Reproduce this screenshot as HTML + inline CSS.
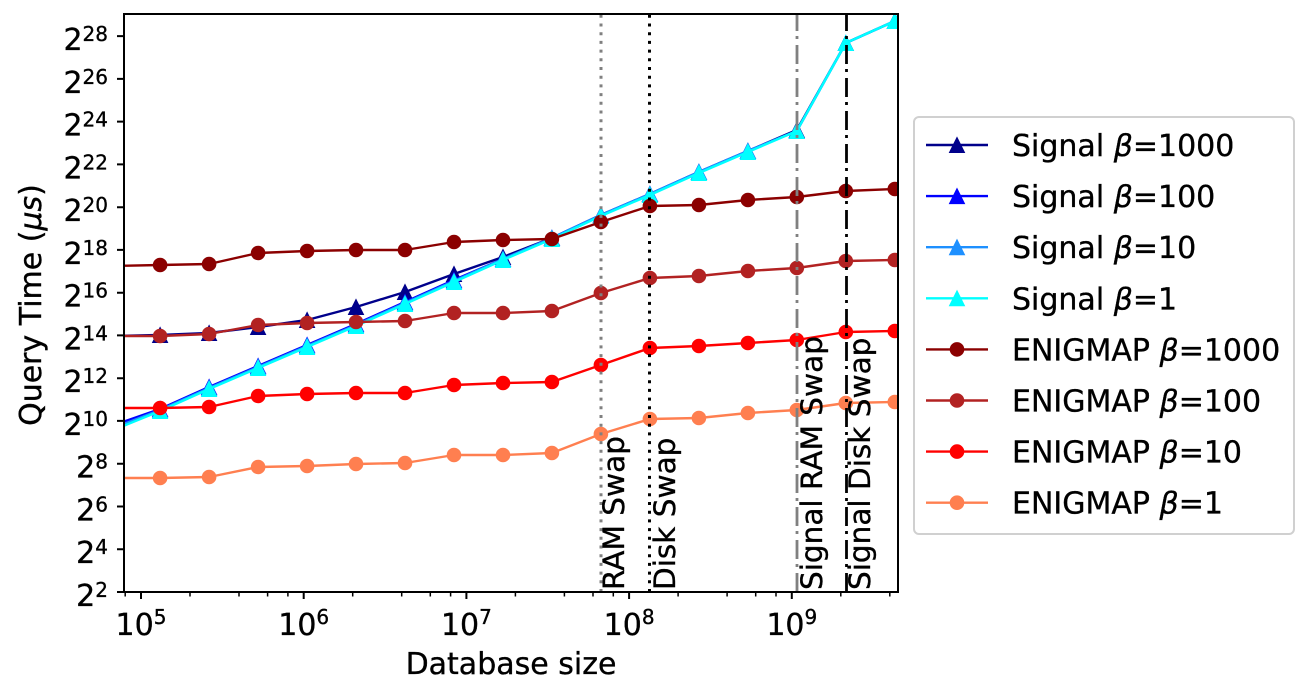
<!DOCTYPE html>
<html>
<head>
<meta charset="utf-8">
<style>
html,body{margin:0;padding:0;background:#fff;}
svg{display:block;}
text{font-family:"DejaVu Sans","Liberation Sans",sans-serif;fill:#000;stroke:#000;stroke-width:0.35px;}
</style>
</head>
<body>
<svg width="1310" height="695" viewBox="0 0 1310 695" xmlns="http://www.w3.org/2000/svg">
<defs>
  <clipPath id="ax"><rect x="124" y="14" width="774" height="578"/></clipPath>
  <marker id="t1" markerWidth="20" markerHeight="20" refX="10" refY="10" markerUnits="userSpaceOnUse" orient="0"><path d="M10,2.5 L2.5,17.5 L17.5,17.5 Z" fill="#00008B" stroke="#00008B" stroke-width="1"/></marker>
  <marker id="t2" markerWidth="20" markerHeight="20" refX="10" refY="10" markerUnits="userSpaceOnUse" orient="0"><path d="M10,2.5 L2.5,17.5 L17.5,17.5 Z" fill="#0000FF" stroke="#0000FF" stroke-width="1"/></marker>
  <marker id="t3" markerWidth="20" markerHeight="20" refX="10" refY="10" markerUnits="userSpaceOnUse" orient="0"><path d="M10,2.5 L2.5,17.5 L17.5,17.5 Z" fill="#1E90FF" stroke="#1E90FF" stroke-width="1"/></marker>
  <marker id="t4" markerWidth="20" markerHeight="20" refX="10" refY="10" markerUnits="userSpaceOnUse" orient="0"><path d="M10,2.5 L2.5,17.5 L17.5,17.5 Z" fill="#00FFFF" stroke="#00FFFF" stroke-width="1"/></marker>
  <marker id="c1" markerWidth="20" markerHeight="20" refX="10" refY="10" markerUnits="userSpaceOnUse" orient="0"><circle cx="10" cy="10" r="6.8" fill="#8B0000" stroke="#8B0000" stroke-width="1"/></marker>
  <marker id="c2" markerWidth="20" markerHeight="20" refX="10" refY="10" markerUnits="userSpaceOnUse" orient="0"><circle cx="10" cy="10" r="6.8" fill="#B22222" stroke="#B22222" stroke-width="1"/></marker>
  <marker id="c3" markerWidth="20" markerHeight="20" refX="10" refY="10" markerUnits="userSpaceOnUse" orient="0"><circle cx="10" cy="10" r="6.8" fill="#FF0000" stroke="#FF0000" stroke-width="1"/></marker>
  <marker id="c4" markerWidth="20" markerHeight="20" refX="10" refY="10" markerUnits="userSpaceOnUse" orient="0"><circle cx="10" cy="10" r="6.8" fill="#FF7F50" stroke="#FF7F50" stroke-width="1"/></marker>
</defs>

<g clip-path="url(#ax)" fill="none" stroke-width="2.4" stroke-linejoin="round">
  <polyline stroke="#00008B" marker-start="url(#t1)" marker-mid="url(#t1)" marker-end="url(#t1)"
    points="111.1,336 160.1,335 209.1,333 258.1,327 307.1,320 356.0,307 405.0,292 454.0,274 503.0,257 551.9,238 600.9,215 649.9,194 698.9,172 747.9,151 796.8,130 845.8,43 894.8,21"/>
  <polyline stroke="#0000FF" marker-start="url(#t2)" marker-mid="url(#t2)" marker-end="url(#t2)"
    points="111.1,426 160.1,409 209.1,387 258.1,366 307.1,345 356.0,324 405.0,302 454.0,280 503.0,259 551.9,238 600.9,215 649.9,194 698.9,172 747.9,151 796.8,131 845.8,43 894.8,21"/>
  <polyline stroke="#1E90FF" marker-start="url(#t3)" marker-mid="url(#t3)" marker-end="url(#t3)"
    points="111.1,429 160.1,410 209.1,388 258.1,367 307.1,346 356.0,325 405.0,303 454.0,281 503.0,259 551.9,238 600.9,215 649.9,194 698.9,172 747.9,151 796.8,131 845.8,43 894.8,21"/>
  <polyline stroke="#00FFFF" marker-start="url(#t4)" marker-mid="url(#t4)" marker-end="url(#t4)"
    points="111.1,431 160.1,411 209.1,389 258.1,368 307.1,347 356.0,326 405.0,304 454.0,282 503.0,260 551.9,239 600.9,216 649.9,195 698.9,173 747.9,152 796.8,131 845.8,43 894.8,21"/>

  <polyline stroke="#8B0000" marker-start="url(#c1)" marker-mid="url(#c1)" marker-end="url(#c1)"
    points="111.1,266 160.1,265 209.1,264 258.1,253 307.1,251 356.0,250 405.0,250 454.0,242 503.0,240 551.9,239 600.9,222 649.9,206 698.9,205 747.9,200 796.8,197 845.8,191 894.8,189"/>
  <polyline stroke="#B22222" marker-start="url(#c2)" marker-mid="url(#c2)" marker-end="url(#c2)"
    points="111.1,336 160.1,336 209.1,334 258.1,325 307.1,323 356.0,322 405.0,321 454.0,313 503.0,313 551.9,311 600.9,293 649.9,278 698.9,276 747.9,271 796.8,268 845.8,261 894.8,260"/>
  <polyline stroke="#FF0000" marker-start="url(#c3)" marker-mid="url(#c3)" marker-end="url(#c3)"
    points="111.1,408 160.1,408 209.1,407 258.1,396 307.1,394 356.0,393 405.0,393 454.0,385 503.0,383 551.9,382 600.9,365 649.9,348 698.9,346 747.9,343 796.8,340 845.8,332 894.8,331"/>
  <polyline stroke="#FF7F50" marker-start="url(#c4)" marker-mid="url(#c4)" marker-end="url(#c4)"
    points="111.1,478 160.1,478 209.1,477 258.1,467 307.1,466 356.0,464 405.0,463 454.0,455 503.0,455 551.9,453 600.9,434 649.9,419 698.9,418 747.9,413 796.8,410 845.8,403 894.8,402"/>

  <path d="M601,592 V14" stroke="#808080" stroke-width="3" stroke-dasharray="3 5.7"/>
  <path d="M649.5,592 V14" stroke="#000" stroke-width="3" stroke-dasharray="3 5.7"/>
  <path d="M797,592 V14" stroke="#808080" stroke-width="2.8" stroke-dasharray="19 6 3 5"/>
  <path d="M846.5,592 V14" stroke="#000" stroke-width="2.8" stroke-dasharray="19 6 3 5"/>
</g>

<g font-size="29.5">
  <text transform="translate(624,590) rotate(-90)">RAM Swap</text>
  <text transform="translate(675,590) rotate(-90)">Disk Swap</text>
  <text transform="translate(822,590) rotate(-90)">Signal RAM Swap</text>
  <text transform="translate(870,590) rotate(-90)">Signal Disk Swap</text>
</g>

<rect x="124" y="14" width="774" height="578" fill="none" stroke="#000" stroke-width="2"/>

<g stroke="#000" stroke-width="2">
  <path d="M117,592H124 M117,549.2H124 M117,506.5H124 M117,463.7H124 M117,420.9H124 M117,378.2H124 M117,335.4H124 M117,292.7H124 M117,249.9H124 M117,207.2H124 M117,164.4H124 M117,121.6H124 M117,78.9H124 M117,36.1H124"/>
  <path d="M141,592V599 M303.7,592V599 M466.4,592V599 M629.1,592V599 M791.8,592V599"/>
</g>
<g stroke="#000" stroke-width="1.5">
  <path d="M125.2,592V596.5 M190,592V596.5 M239,592V596.5 M267.6,592V596.5 M287.9,592V596.5 M352.7,592V596.5 M401.7,592V596.5 M430.3,592V596.5 M450.6,592V596.5 M515.4,592V596.5 M564.4,592V596.5 M593,592V596.5 M613.3,592V596.5 M678.1,592V596.5 M727.1,592V596.5 M755.7,592V596.5 M776,592V596.5 M840.8,592V596.5 M889.8,592V596.5"/>
</g>

<g font-size="30" text-anchor="end">
  <text x="108" y="606">2<tspan font-size="20" dy="-9">2</tspan></text>
  <text x="108" y="563.2">2<tspan font-size="20" dy="-9">4</tspan></text>
  <text x="108" y="520.5">2<tspan font-size="20" dy="-9">6</tspan></text>
  <text x="108" y="477.7">2<tspan font-size="20" dy="-9">8</tspan></text>
  <text x="108" y="434.9">2<tspan font-size="20" dy="-9">10</tspan></text>
  <text x="108" y="392.2">2<tspan font-size="20" dy="-9">12</tspan></text>
  <text x="108" y="349.4">2<tspan font-size="20" dy="-9">14</tspan></text>
  <text x="108" y="306.7">2<tspan font-size="20" dy="-9">16</tspan></text>
  <text x="108" y="263.9">2<tspan font-size="20" dy="-9">18</tspan></text>
  <text x="108" y="221.2">2<tspan font-size="20" dy="-9">20</tspan></text>
  <text x="108" y="178.4">2<tspan font-size="20" dy="-9">22</tspan></text>
  <text x="108" y="135.6">2<tspan font-size="20" dy="-9">24</tspan></text>
  <text x="108" y="92.9">2<tspan font-size="20" dy="-9">26</tspan></text>
  <text x="108" y="50.1">2<tspan font-size="20" dy="-9">28</tspan></text>
</g>

<g font-size="30" text-anchor="middle">
  <text x="141" y="635">10<tspan font-size="20" dy="-11">5</tspan></text>
  <text x="303.7" y="635">10<tspan font-size="20" dy="-11">6</tspan></text>
  <text x="466.4" y="635">10<tspan font-size="20" dy="-11">7</tspan></text>
  <text x="629.1" y="635">10<tspan font-size="20" dy="-11">8</tspan></text>
  <text x="791.8" y="635">10<tspan font-size="20" dy="-11">9</tspan></text>
</g>

<text x="511" y="674" font-size="30" text-anchor="middle">Database size</text>
<text transform="translate(41,305) rotate(-90)" font-size="30" text-anchor="middle">Query Time (<tspan font-style="italic">μs</tspan>)</text>

<rect x="914" y="117" width="380" height="417" rx="5" ry="5" fill="#fff" stroke="#d0d0d0" stroke-width="2"/>
<g stroke-width="2.4" fill="none">
  <path d="M926,145H988" stroke="#00008B"/>
  <path d="M926,196.1H988" stroke="#0000FF"/>
  <path d="M926,247.2H988" stroke="#1E90FF"/>
  <path d="M926,298.3H988" stroke="#00FFFF"/>
  <path d="M926,349.4H988" stroke="#8B0000"/>
  <path d="M926,400.5H988" stroke="#B22222"/>
  <path d="M926,451.6H988" stroke="#FF0000"/>
  <path d="M926,502.7H988" stroke="#FF7F50"/>
</g>
<g stroke-width="1">
  <path d="M957,137.5 L949.5,152.5 L964.5,152.5 Z" fill="#00008B" stroke="#00008B"/>
  <path d="M957,188.6 L949.5,203.6 L964.5,203.6 Z" fill="#0000FF" stroke="#0000FF"/>
  <path d="M957,239.7 L949.5,254.7 L964.5,254.7 Z" fill="#1E90FF" stroke="#1E90FF"/>
  <path d="M957,290.8 L949.5,305.8 L964.5,305.8 Z" fill="#00FFFF" stroke="#00FFFF"/>
  <circle cx="957" cy="349.4" r="6.8" fill="#8B0000" stroke="#8B0000"/>
  <circle cx="957" cy="400.5" r="6.8" fill="#B22222" stroke="#B22222"/>
  <circle cx="957" cy="451.6" r="6.8" fill="#FF0000" stroke="#FF0000"/>
  <circle cx="957" cy="502.7" r="6.8" fill="#FF7F50" stroke="#FF7F50"/>
</g>
<g font-size="30">
  <text x="1012" y="156">Signal <tspan font-style="italic">β</tspan>=1000</text>
  <text x="1012" y="207.1">Signal <tspan font-style="italic">β</tspan>=100</text>
  <text x="1012" y="258.2">Signal <tspan font-style="italic">β</tspan>=10</text>
  <text x="1012" y="309.3">Signal <tspan font-style="italic">β</tspan>=1</text>
  <text x="1012" y="360.4">ENIGMAP <tspan font-style="italic">β</tspan>=1000</text>
  <text x="1012" y="411.5">ENIGMAP <tspan font-style="italic">β</tspan>=100</text>
  <text x="1012" y="462.6">ENIGMAP <tspan font-style="italic">β</tspan>=10</text>
  <text x="1012" y="513.7">ENIGMAP <tspan font-style="italic">β</tspan>=1</text>
</g>
</svg>
</body>
</html>
